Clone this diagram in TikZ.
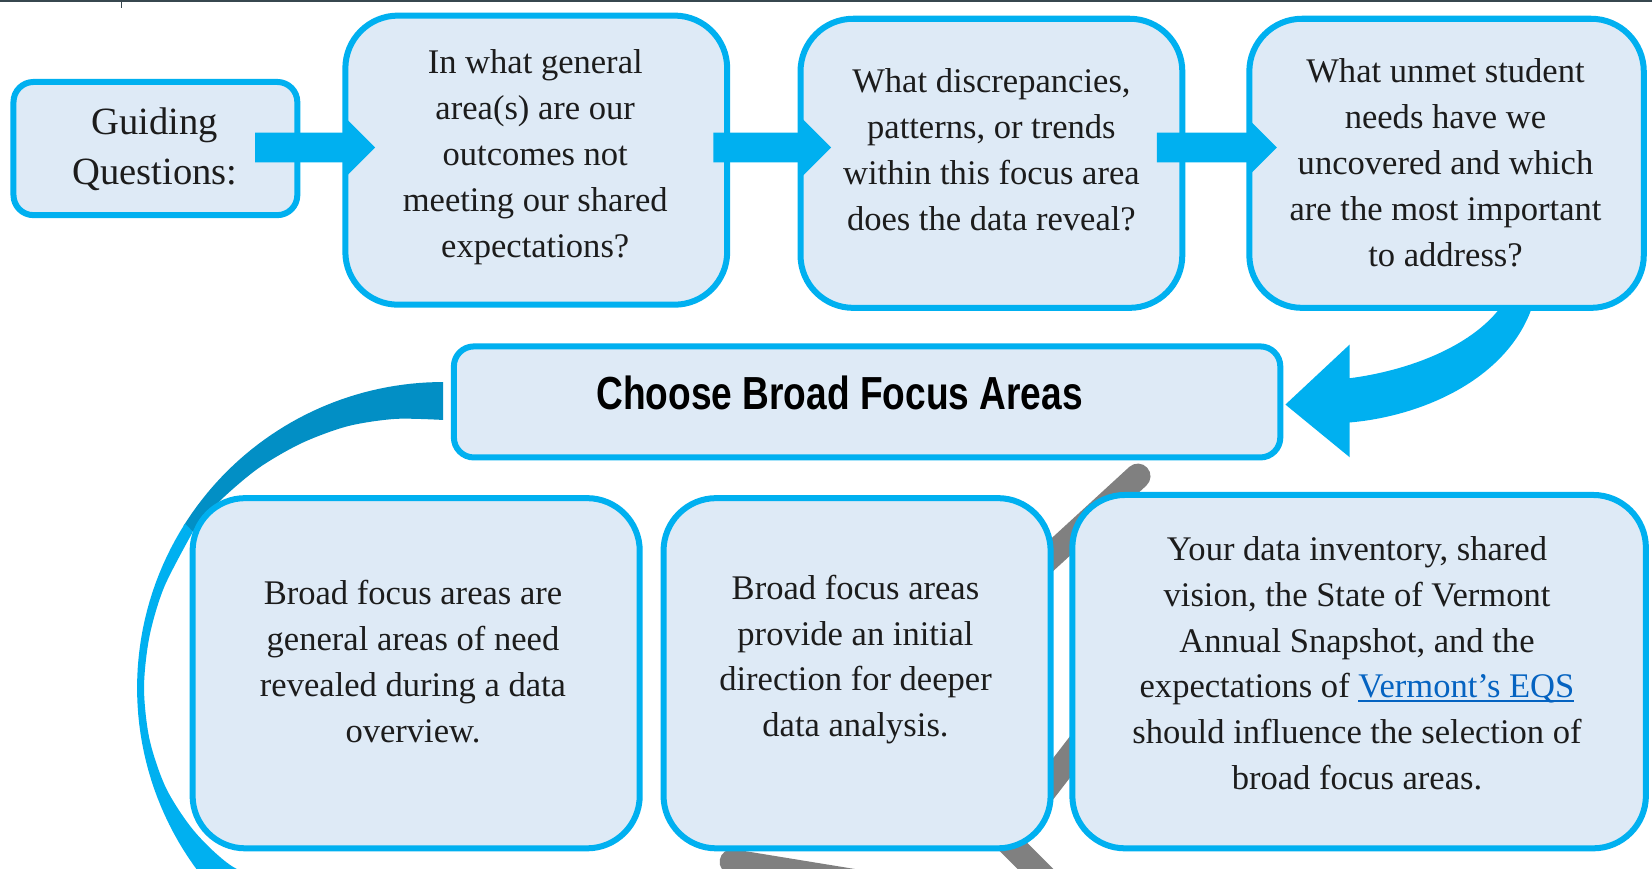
\documentclass[tikz,border=0pt]{standalone}
\usepackage{fontspec}
\usepackage{graphicx}
\setmainfont{Liberation Serif}
\setsansfont{Liberation Sans}
\usetikzlibrary{calc}
\definecolor{cyanc}{RGB}{0,176,240}
\definecolor{boxfill}{RGB}{222,234,246}
\definecolor{darkc}{RGB}{2,143,197}
\definecolor{grayl}{RGB}{128,128,128}
\definecolor{txt}{RGB}{28,28,28}
\definecolor{linkc}{RGB}{5,99,193}
\definecolor{topl}{RGB}{55,71,79}
\newcommand\blockarr[4]{%
  \fill[cyanc] ($(#1.east|-ay)+(-#3,-14)$) -- ($(#2.west|-ay)+(#4,-14)$) -- ($(#2.west|-ay)+(#4,-27)$)
    -- ($(#2.west|-ay)+(#4+27,0)$) -- ($(#2.west|-ay)+(#4,27)$) -- ($(#2.west|-ay)+(#4,14)$)
    -- ($(#1.east|-ay)+(-#3,14)$) -- cycle;}
\newcommand\ulink[1]{{\color{linkc}\setbox0\hbox{#1}\rlap{\rule[-1.9pt]{\wd0}{0.7pt}}\box0}}
\begin{document}
\begin{tikzpicture}[x=0.5pt,y=-0.5pt,
  box/.style={draw=cyanc, fill=boxfill, line width=2.85pt, rounded corners=#1, inner sep=0pt},
  body/.style={font=\fontsize{16.4}{21.8}\selectfont, text=txt, align=center, inner sep=0pt},
  gtext/.style={font=\fontsize{18.3}{23.5}\selectfont, text=txt, align=center, inner sep=0pt},
  grayline/.style={draw=grayl, line width=12pt, line cap=round, line join=round}]
\useasboundingbox (0,0) rectangle (1568,824);
\fill[white] (0,0) rectangle (1568,824);
\clip (0,0) rectangle (1568,824);
% background gray lines
\draw[grayline] (1080,452) -- (850,663);
\draw[grayline] (1063,657) -- (955,797) -- (1010,852);
\draw[grayline] (695,818) -- (830,840);
% left circular band
\fill[darkc] plot[domain=270:212,samples=40] ({420.5+290.4*cos(\x)},{653+290.4*sin(\x)})
  -- plot[smooth] coordinates {(183.1,504.7) (208.8,475.3) (245.4,444.3) (286.3,420.6) (330.1,404.5) (375.3,397.6) (420.5,398.6)} -- cycle;
\fill[cyanc] plot[domain=212.5:125,samples=50] ({420.5+290.4*cos(\x)},{653+290.4*sin(\x)})
  -- plot[smooth] coordinates {(283.7,848.3) (262.7,841) (219.5,821.7) (184.6,789.2) (157.9,748.6) (142.0,702.1) (136.7,653) (141.9,603.9) (156.0,556.8) (183.1,504.7)} -- cycle;
% boxes
\node[box=9.5pt, minimum width=134.7pt, minimum height=63.2pt] (g) at (147.5,141) {};
\node[box=25pt, minimum width=181.2pt, minimum height=137.2pt] (b2) at (509,152) {};
\node[box=25pt, minimum width=181.2pt, minimum height=137.2pt] (b3) at (941,155) {};
\node[box=25pt, minimum width=187.2pt, minimum height=137.2pt] (b4) at (1373,155) {};
\node[box=9.5pt, minimum width=392.2pt, minimum height=52.7pt] (ch) at (823,381.5) {};
\node[box=25pt, minimum width=212.2pt, minimum height=166.2pt] (c1) at (395,639) {};
\node[box=25pt, minimum width=183.7pt, minimum height=166.2pt] (c2) at (813.5,639) {};
\node[box=25pt, minimum width=272.2pt, minimum height=167.7pt] (c3) at (1290,637.5) {};
% block arrows
\coordinate (ay) at (0,140);
\blockarr{g}{b2}{43}{4}
\blockarr{b2}{b3}{16}{5}
\blockarr{b3}{b4}{27}{2}
% curved arrow
\fill[cyanc] ($(b4.south)+(51,-3)$) .. controls ($(b4.south)+(22,35)$) and ($(ch.east)+(117,-29.5)$) .. ($(ch.east)+(63,-22.5)$)
  -- ($(ch.east)+(63,-54.5)$) -- ($(ch.east)+(2,2.5)$) -- ($(ch.east)+(63,52.5)$) -- ($(ch.east)+(63,19.5)$)
  .. controls ($(ch.east)+(132,13.5)$) and ($(b4.south)+(57,65)$) .. ($(b4.south)+(81,-3)$) -- cycle;
% texts
\node[gtext] (tg) at (147,141.5) {Guiding\\Questions:};
\node[body] (t2) at (508,149) {In what general\\area(s) are our\\outcomes not\\meeting our shared\\expectations?};
\node[body] (t3) at (941,142) {What discrepancies,\\patterns, or trends\\within this focus area\\does the data reveal?};
\node[body] (t4) at (1372,154.5) {What unmet student\\needs have we\\uncovered and which\\are the most important\\to address?};
\node[font=\sffamily\bfseries\fontsize{22}{26}\selectfont, text=black, inner sep=0pt] (cht) at (797,373) {\scalebox{0.8}[1]{Choose Broad Focus Areas}};
\node[body] (u1) at (392,628) {Broad focus areas are\\general areas of need\\revealed during a data\\overview.};
\node[body] (u2) at (812,626) {Broad focus areas\\provide an initial\\direction for deeper\\data analysis.};
\node[body] (u3) at (1288,629.5) {Your data inventory, shared\\vision, the State of Vermont\\Annual Snapshot, and the\\expectations of \ulink{Vermont’s EQS}\\should influence the selection of\\broad focus areas.};
% top rule
\draw[topl, line width=1.2pt] (0,1) -- (1568,1);
\draw[topl, line width=0.6pt] (115,0) -- (115,7.5);
\end{tikzpicture}
\end{document}
